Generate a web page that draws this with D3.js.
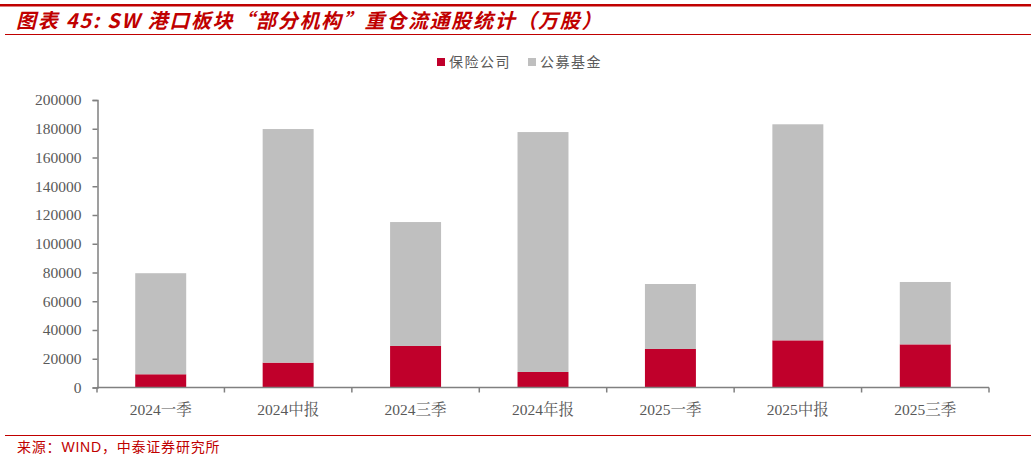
<!DOCTYPE html>
<html><head><meta charset="utf-8">
<script src="https://cdn.jsdelivr.net/npm/d3@7"></script>
<style>body{margin:0;background:#fff}svg{display:block}</style>
</head><body>
<script>
const categories = ["2024一季","2024中报","2024三季","2024年报","2025一季","2025中报","2025三季"];
const insurance = [9200, 17300, 28900, 10800, 26800, 32800, 30000];
const publicFunds = [70300, 162500, 86200, 166900, 45200, 150300, 43400];
const seriesNames = ["保险公司","公募基金"];
const yTicks = [0,20000,40000,60000,80000,100000,120000,140000,160000,180000,200000];

const W = 1031, H = 459;
const svg = d3.select("body").append("svg").attr("width", W).attr("height", H);
const red = "#c0002b", gray = "#bfbfbf", textGray = "#595959", axisGray = "#808080";
const titleRed = "#c00000";

// header lines and title
svg.append("rect").attr("x",0).attr("y",4).attr("width",W).attr("height",2.5).attr("fill",titleRed);
svg.append("line").attr("x1",5).attr("x2",W).attr("y1",34.5).attr("y2",34.5).attr("stroke",titleRed).attr("stroke-width",1);
svg.append("text").attr("x",16).attr("y",28)
  .attr("font-family","'Noto Sans CJK SC',sans-serif")
  .attr("font-size",20).attr("font-weight","bold").attr("font-style","italic")
  .attr("letter-spacing",1.7)
  .attr("fill",titleRed)
  .text("图表 45: SW 港口板块“部分机构”重仓流通股统计（万股）");

// footer
svg.append("line").attr("x1",5).attr("x2",W).attr("y1",435.5).attr("y2",435.5).attr("stroke",titleRed).attr("stroke-width",1);
svg.append("text").attr("x",17).attr("y",452)
  .attr("font-family","'Liberation Sans','Noto Sans CJK SC',sans-serif")
  .attr("font-size",14).attr("fill",titleRed).attr("letter-spacing",0.8)
  .text("来源：WIND，中泰证券研究所");

const x = d3.scaleBand().domain(categories).range([97, 989]).paddingInner(0.6).paddingOuter(0.3);
const y = d3.scaleLinear().domain([0,200000]).range([387.5, 100]);

const data = categories.map((c,i)=>({cat:c, 保险公司:insurance[i], 公募基金:publicFunds[i]}));
const stack = d3.stack().keys(seriesNames)(data);
const colors = {"保险公司":red, "公募基金":gray};

const g = svg.append("g");
g.selectAll("g.s").data(stack).join("g").attr("fill", d=>colors[d.key])
  .selectAll("rect").data(d=>d).join("rect")
  .attr("x", d=>x(d.data.cat)).attr("width", x.bandwidth())
  .attr("y", d=>y(d[1])).attr("height", d=>y(d[0])-y(d[1]));

// y axis
const yAxis = svg.append("g").attr("transform","translate(97.5,0)")
  .call(d3.axisLeft(y).tickValues(yTicks).tickFormat(d3.format("d")).tickSize(5).tickPadding(11));
yAxis.selectAll("path,line").attr("stroke",axisGray).attr("stroke-width",1.5);
yAxis.selectAll("text").attr("fill",textGray).attr("font-size",15.5)
  .attr("font-family","'Liberation Serif','Times New Roman',serif");

// x axis with ticks at band boundaries
const xAxis = svg.append("g").attr("transform","translate(0,387.5)");
xAxis.append("line").attr("x1",97).attr("x2",989).attr("stroke",axisGray).attr("stroke-width",1.5);
const step = (989-97)/categories.length;
xAxis.selectAll("line.t").data(d3.range(categories.length+1)).join("line").attr("class","t")
  .attr("x1",i=>97+i*step).attr("x2",i=>97+i*step).attr("y1",0).attr("y2",5)
  .attr("stroke",axisGray).attr("stroke-width",1.5);
xAxis.selectAll("text").data(categories).join("text")
  .attr("x", d=>x(d)+x.bandwidth()/2).attr("y",27).attr("text-anchor","middle")
  .attr("fill",textGray).attr("font-size",15.5)
  .attr("font-family","'Liberation Serif','Noto Serif CJK SC','Noto Sans CJK SC',serif")
  .text(d=>d);

// legend
const legend = svg.append("g").attr("transform","translate(437,58)");
const lx = [0, 91];
seriesNames.forEach((n,i)=>{
  legend.append("rect").attr("x",lx[i]).attr("y",0).attr("width",8).attr("height",8).attr("fill",colors[n]);
  legend.append("text").attr("x",lx[i]+12).attr("y",9).attr("fill",textGray).attr("font-size",14)
    .attr("font-family","'Noto Sans CJK SC',sans-serif").attr("letter-spacing",1.5).text(n);
});
</script>
</body></html>
